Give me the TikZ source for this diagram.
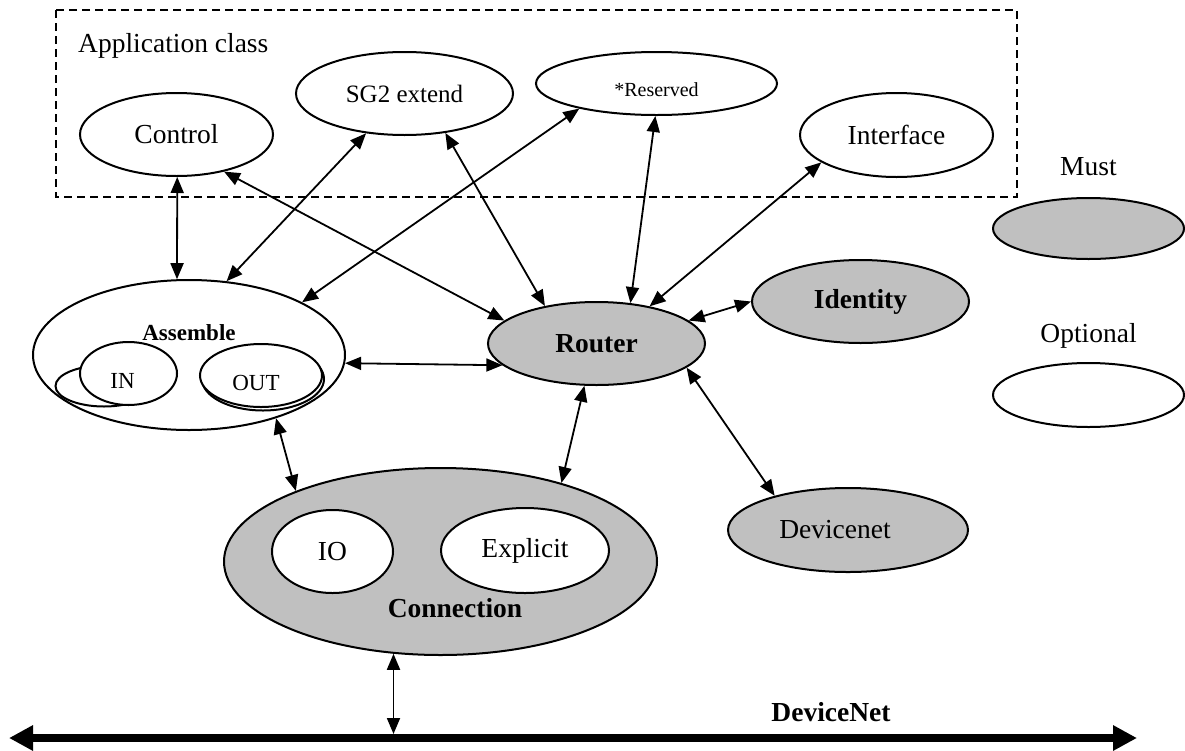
\documentclass[tikz,border=0pt]{standalone}
\usepackage{fontspec}
\setmainfont{Liberation Serif}
\usetikzlibrary{shapes.geometric,arrows.meta}
\definecolor{mustgrey}{HTML}{C0C0C0}
\tikzset{
  oval/.style={ellipse, draw, line width=2pt, inner sep=0pt, fill=white,
    font=\fontsize{27.5}{30}\selectfont},
  mustoval/.style={oval, fill=mustgrey},
  sz/.style 2 args={minimum width=#1pt, minimum height=#2pt},
  conn/.style={line width=1.8pt, {Triangle[length=16pt,width=13pt]}-{Triangle[length=16pt,width=13pt]}},
  bus/.style={line width=8pt, {Triangle[length=24pt,width=24pt]}-{Triangle[length=24pt,width=24pt]}},
  lbl/.style={inner sep=0pt, font=\fontsize{27.5}{30}\selectfont},
}
\begin{document}
\begin{tikzpicture}[x=1pt,y=-1pt]
\useasboundingbox (0,0) rectangle (1185,750);

% application class box
\draw[line width=2pt, dash pattern=on 8pt off 5pt] (56,10) rectangle (1017,197);
\node[lbl, anchor=base west] (apptext) at (78,52) {Application class};

% application ovals
\node[oval, sz={193}{83}] (control) at (176.5,134.5) {Control};
\node[oval, sz={217}{83}, font=\fontsize{25}{28}\selectfont] (sg2) at (404.5,93.5) {SG2 extend};
\node[oval, sz={241}{63}, label={[font=\fontsize{20}{22}\selectfont, yshift=-6pt]center:*Reserved}] (reserved) at (656.5,83.5) {};
\node[oval, sz={193}{84}] (interface) at (896.5,135) {Interface};

% legend
\node[lbl, anchor=base] (musttext) at (1088.5,175) {Must};
\node[mustoval, sz={191}{61}] (must) at (1088.5,228.5) {};
\node[lbl, anchor=base] (opttext) at (1088.5,342) {Optional};
\node[oval, sz={191}{64}] (optional) at (1088.5,395) {};

% assemble
\node[oval, sz={312}{150}] (assemble) at (189,355) {};
\node[lbl, font=\fontsize{23}{26}\selectfont\bfseries, anchor=base] (asmtext) at (189,340) {Assemble};
\node[oval, sz={97}{41}] (inshadow) at (104,386) {};
\node[oval, sz={97}{63}, label={[font=\fontsize{23}{25}\selectfont, yshift=-7pt, xshift=-6pt]center:IN}] (in) at (128.5,373.5) {};
\node[oval, sz={122}{63}] (outshadow) at (263,379) {};
\node[oval, sz={122}{63}, label={[font=\fontsize{23}{25}\selectfont, yshift=-7pt, xshift=-5pt]center:OUT}] (out) at (261,375.5) {};

% router / identity / devicenet
\node[mustoval, sz={217}{83}, font=\fontsize{27.5}{30}\selectfont\bfseries] (router) at (596.5,343.5) {Router};
\node[mustoval, sz={217}{83}, font=\fontsize{27.5}{30}\selectfont\bfseries] (identity) at (860.5,301.5) {Identity};
\node[mustoval, sz={240}{84}, label={[font=\fontsize{27.5}{30}\selectfont, xshift=-13pt]center:Devicenet}] (devicenet) at (848,530) {};

% connection
\node[mustoval, sz={433}{187}] (connection) at (440.5,561.5) {};
\node[oval, sz={121}{83}] (io) at (332.5,551.5) {IO};
\node[oval, sz={168}{85}] (explicit) at (525,550.5) {Explicit};
\node[lbl, font=\fontsize{27.5}{30}\selectfont\bfseries, anchor=base] (conntext) at (455,617) {Connection};

% bus
\coordinate (busL) at (9,738);
\coordinate (busR) at (1137,738);
\coordinate (tap) at (393,734);
\draw[bus] (busL) -- (busR);
\node[lbl, font=\fontsize{27.5}{30}\selectfont\bfseries, anchor=base] (bustext) at (831,721) {DeviceNet};

% connectors
\draw[conn] (control.-89) -- (assemble.99);
\draw[conn] (control.-38) -- (router.166.5);
\draw[conn] (sg2.-134) -- (assemble.63);
\draw[conn] (reserved.-162) -- (assemble.25);
\draw[conn] (sg2.-44) -- (router.144);
\draw[conn] (reserved.-92) -- (router.50);
\draw[conn] (interface.-160) -- (router.35);
\draw[conn] (router.14) -- (identity.180);
\draw[conn] (assemble.-3.7) -- (router.193);
\draw[conn] (assemble.-36) -- (connection.154);
\draw[conn] (router.-106) -- (connection.33);
\draw[conn] (router.-15) -- (devicenet.155);
\draw[conn] (connection.-117.5) -- (connection.-117.5 |- tap);
\end{tikzpicture}
\end{document}
